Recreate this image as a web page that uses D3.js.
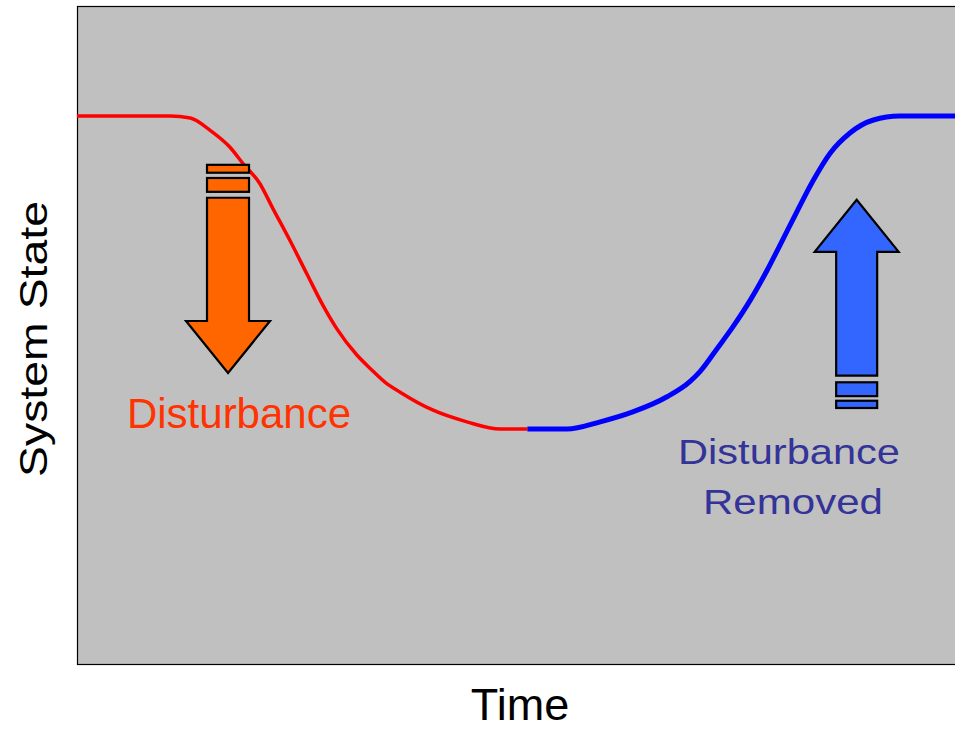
<!DOCTYPE html>
<html><head><meta charset="utf-8">
<script src="https://cdn.jsdelivr.net/npm/d3@7"></script>
<style>html,body{margin:0;padding:0;background:#fff;}svg{display:block;}</style>
</head><body>
<script>
// Disturbance phase (red)
const disturbTime  = [0, 10.6, 12.9, 15.1, 17.4, 18.9, 20.8, 22.3, 24.3, 26.2, 28.0, 29.6, 31.9, 33.4, 35.1, 36.8, 40.5, 44.4, 48.2, 51.3];
const disturbState = [83.3, 83.3, 83.0, 81.2, 78.6, 76.1, 73.1, 69.3, 64.3, 59.3, 54.6, 51.0, 47.0, 45.0, 42.9, 41.4, 38.7, 36.9, 35.8, 35.8];
// Recovery phase (blue)
const recoverTime  = [51.3, 55.8, 59.6, 63.3, 67.2, 69.8, 71.0, 72.9, 74.7, 76.7, 78.6, 80.1, 82.0, 83.8, 85.8, 88.0, 90.7, 93.7, 100];
const recoverState = [35.8, 35.8, 36.9, 38.4, 40.7, 43.0, 44.6, 48.0, 51.3, 55.4, 59.9, 63.8, 68.8, 73.4, 77.7, 80.7, 82.7, 83.3, 83.3];
const labels = {x: "Time", y: "System State", disturb: "Disturbance", removed: ["Disturbance", "Removed"]};

const W = 955, H = 729;
const plot = {left: 77, top: 6, right: 955, bottom: 665};
const svg = d3.select("body").append("svg").attr("width", W).attr("height", H);
const font = "'Liberation Sans', Arial, Helvetica, sans-serif";

const x = d3.scaleLinear().domain([0, 100]).range([plot.left, plot.right]);
const y = d3.scaleLinear().domain([0, 100]).range([plot.bottom, plot.top]);

svg.append("rect").attr("x", plot.left + 0.5).attr("y", plot.top + 0.5)
  .attr("width", plot.right - plot.left + 5).attr("height", plot.bottom - plot.top - 1)
  .attr("fill", "#C0C0C0").attr("stroke", "#000").attr("stroke-width", 1.2);

const line = d3.line().x(d => x(d[0])).y(d => y(d[1])).curve(d3.curveMonotoneX);
const red = disturbTime.map((t, i) => [t, disturbState[i]]);
const blue = recoverTime.map((t, i) => [t, recoverState[i]]);

svg.append("path").datum(red).attr("d", line).attr("fill", "none")
  .attr("stroke", "#FF0000").attr("stroke-width", 3.5);
svg.append("path").datum(blue).attr("d", line).attr("fill", "none")
  .attr("stroke", "#0000FF").attr("stroke-width", 5);

// Arrows (anchored in data units)
function arrow(cx, shaftHalf, headHalf, pts, fill) {
  const X = x(cx);
  const g = svg.append("g").attr("fill", fill).attr("stroke", "#000").attr("stroke-width", 2.2).attr("stroke-linejoin", "miter");
  const p = [
    [X, y(pts.apex)],
    [X + headHalf, y(pts.headBase)],
    [X + shaftHalf, y(pts.headBase)],
    [X + shaftHalf, y(pts.shaftEnd)],
    [X - shaftHalf, y(pts.shaftEnd)],
    [X - shaftHalf, y(pts.headBase)],
    [X - headHalf, y(pts.headBase)]
  ];
  g.append("polygon").attr("points", p.map(d => d.join(",")).join(" "));
  pts.bars.forEach(b => {
    const y0 = Math.min(y(b[0]), y(b[1])), y1 = Math.max(y(b[0]), y(b[1]));
    g.append("rect").attr("x", X - shaftHalf).attr("y", y0).attr("width", shaftHalf * 2).attr("height", y1 - y0);
  });
}
arrow(17.2, 21, 42, {apex: 44.3, headBase: 52.2, shaftEnd: 70.9, bars: [[71.8, 73.9], [74.7, 75.9]]}, "#FF6600");
arrow(88.8, 20.5, 42, {apex: 70.6, headBase: 62.7, shaftEnd: 43.9, bars: [[42.9, 40.8], [40.1, 39.0]]}, "#3366FF");

// Labels
svg.append("text").attr("x", 239).attr("y", 428).attr("text-anchor", "middle")
  .attr("font-family", font).attr("font-size", 42).attr("fill", "#FF3300").text(labels.disturb);
svg.append("text").attr("x", 789).attr("y", 464).attr("text-anchor", "middle")
  .attr("font-family", font).attr("font-size", 35).attr("fill", "#333399")
  .attr("textLength", 222).attr("lengthAdjust", "spacingAndGlyphs").text(labels.removed[0]);
svg.append("text").attr("x", 793).attr("y", 514).attr("text-anchor", "middle")
  .attr("font-family", font).attr("font-size", 35).attr("fill", "#333399")
  .attr("textLength", 180).attr("lengthAdjust", "spacingAndGlyphs").text(labels.removed[1]);

svg.append("text").attr("x", 520).attr("y", 720).attr("text-anchor", "middle")
  .attr("font-family", font).attr("font-size", 45).attr("fill", "#000").text(labels.x);
svg.append("text").attr("transform", "translate(47,339) rotate(-90)").attr("text-anchor", "middle")
  .attr("font-family", font).attr("font-size", 38).attr("fill", "#000")
  .attr("textLength", 276).attr("lengthAdjust", "spacingAndGlyphs").text(labels.y);
</script>
</body></html>
